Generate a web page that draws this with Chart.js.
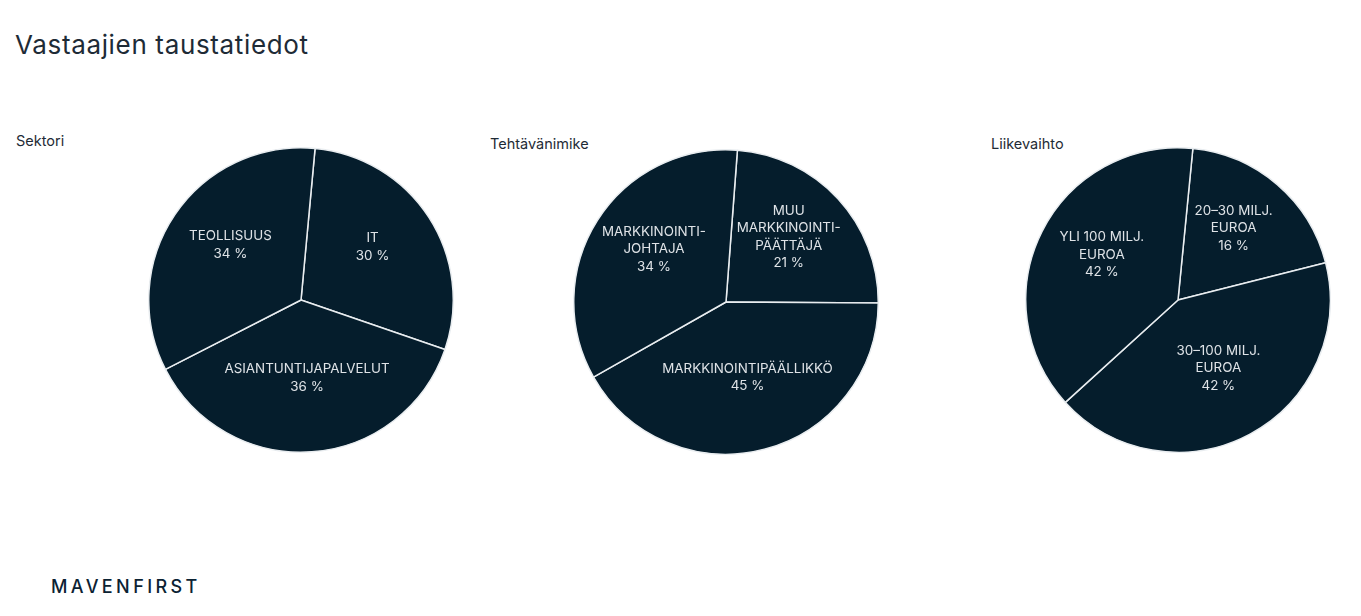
<!DOCTYPE html>
<html>
<head>
<meta charset="utf-8">
<script src="https://cdn.jsdelivr.net/npm/chart.js@4"></script>
<style>
  html,body{margin:0;padding:0;background:#fff;}
  body{width:1361px;height:616px;position:relative;overflow:hidden;font-family:Inter,"Noto Sans",sans-serif;color:#1e2b36;}
  .title{position:absolute;left:15px;top:29px;font-size:26px;font-weight:400;letter-spacing:0.65px;color:#1e2b36;}
  .sub{position:absolute;font-size:14.5px;color:#1e2b36;}
  .logo{position:absolute;left:51px;top:576px;font-size:18px;font-weight:500;letter-spacing:3.4px;color:#0b2233;}
  .pie{position:absolute;}
</style>
</head>
<body>
<div class="title">Vastaajien taustatiedot</div>
<div class="sub" style="left:16px;top:132px;">Sektori</div>
<div class="sub" style="left:490px;top:135px;">Tehtävänimike</div>
<div class="sub" style="left:991px;top:135px;">Liikevaihto</div>
<div class="logo">MAVENFIRST</div>
<div class="pie" style="left:148px;top:147px;width:306px;height:306px;"><canvas id="c1"></canvas></div>
<div class="pie" style="left:573px;top:149px;width:306px;height:306px;"><canvas id="c2"></canvas></div>
<div class="pie" style="left:1025px;top:147px;width:306px;height:306px;"><canvas id="c3"></canvas></div>
<script>
// Sektori (clockwise from top)
const sectorCategories = [["IT"], ["ASIANTUNTIJAPALVELUT"], ["TEOLLISUUS"]];
const sectorPercentLabels = ["30 %", "36 %", "34 %"];
const sectorSliceValues = [28.8, 37.2, 34.0];

// Tehtävänimike
const roleCategories = [["MUU", "MARKKINOINTI-", "PÄÄTTÄJÄ"], ["MARKKINOINTIPÄÄLLIKKÖ"], ["MARKKINOINTI-", "JOHTAJA"]];
const rolePercentLabels = ["21 %", "45 %", "34 %"];
const roleSliceValues = [23.9, 41.7, 34.4];

// Liikevaihto
const revenueCategories = [["20–30 MILJ.", "EUROA"], ["30–100 MILJ.", "EUROA"], ["YLI 100 MILJ.", "EUROA"]];
const revenuePercentLabels = ["16 %", "42 %", "42 %"];
const revenueSliceValues = [19.5, 42.2, 38.3];

const sliceColor = "#051d2c";
const labelColor = "#dfe3e7";

const sliceLabelPlugin = {
  id: "sliceLabels",
  afterDatasetsDraw(chart) {
    const ctx = chart.ctx;
    const meta = chart.getDatasetMeta(0);
    const o = chart.config.options.plugins.sliceLabels;
    ctx.save();
    ctx.fillStyle = labelColor;
    ctx.font = "400 13.4px Inter, 'Noto Sans', sans-serif";
    ctx.textAlign = "center";
    ctx.textBaseline = "middle";
    const lh = 17.5;
    meta.data.forEach((arc, i) => {
      const p = arc.getProps(["startAngle", "endAngle", "outerRadius", "x", "y"], true);
      const mid = (p.startAngle + p.endAngle) / 2;
      const r = p.outerRadius * o.radiusFraction;
      const cx = p.x + Math.cos(mid) * r;
      const cy = p.y + Math.sin(mid) * r - 7;
      const lines = o.categories[i].concat([o.percents[i]]);
      const y0 = cy - (lines.length - 1) * lh / 2;
      lines.forEach((t, k) => ctx.fillText(t, cx, y0 + k * lh));
    });
    ctx.restore();
  }
};

function makePie(id, values, cats, pcts, rotation) {
  new Chart(document.getElementById(id), {
    type: "pie",
    data: {
      labels: cats.map(c => c.join(" ")),
      datasets: [{
        data: values,
        backgroundColor: sliceColor,
        borderColor: "#e9edf0",
        borderWidth: 1.5,
        hoverOffset: 0
      }]
    },
    options: {
      responsive: true,
      maintainAspectRatio: false,
      animation: false,
      rotation: rotation,
      layout: { padding: 0 },
      events: [],
      plugins: {
        legend: { display: false },
        tooltip: { enabled: false },
        sliceLabels: { categories: cats, percents: pcts, radiusFraction: 0.56 }
      }
    },
    plugins: [sliceLabelPlugin]
  });
}

makePie("c1", sectorSliceValues, sectorCategories, sectorPercentLabels, 5.3);
makePie("c2", roleSliceValues, roleCategories, rolePercentLabels, 4.3);
makePie("c3", revenueSliceValues, revenueCategories, revenuePercentLabels, 5.6);
</script>
</body>
</html>
